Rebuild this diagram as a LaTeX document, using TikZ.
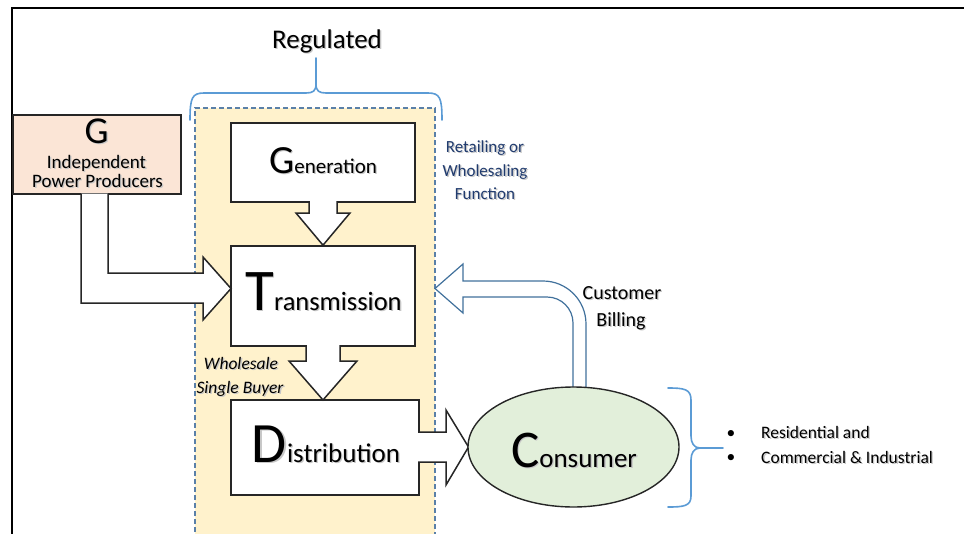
\documentclass[tikz,border=0pt]{standalone}
\usepackage{fontspec}
\setmainfont{Carlito}
\usetikzlibrary{shapes.geometric,calc}

\definecolor{regfill}{HTML}{FFF2CC}
\definecolor{regdash}{HTML}{5A80A8}
\definecolor{braceblue}{HTML}{5B9BD5}
\definecolor{billblue}{HTML}{41719C}
\definecolor{ippfill}{HTML}{FBE5D6}
\definecolor{consfill}{HTML}{E2EFDA}
\definecolor{navytext}{HTML}{203B6E}
\definecolor{boxline}{HTML}{262626}

\newcommand{\fs}[1]{\fontsize{#1}{#1}\selectfont}
% soft drop shadow behind a piece of text
\newcommand{\shd}[1]{\makebox[0pt][l]{\kern1.3pt\raisebox{-1.3pt}{\color{black!22}#1}}#1}

\tikzset{
  box/.style={draw=boxline, line width=1.6pt, fill=white, inner sep=0pt},
  blockarrow/.style={fill=white, draw=boxline, line width=1.5pt, line join=miter},
  billarrow/.style={fill=white, draw=billblue, line width=1.2pt, line join=miter},
  brace/.style={draw=braceblue, line width=1.6pt, line cap=round, line join=round},
  txt/.style={anchor=base, inner sep=0pt, text=black},
}

\begin{document}
\begin{tikzpicture}[x=1pt, y=-1pt]
\useasboundingbox (0,0) rectangle (964,533);

% frame lines
\draw[line width=2pt] (12,534) -- (12,8) -- (965,8);

% regulated area
\fill[regfill] (195,108) rectangle (435,540);
\draw[regdash, line width=1.1pt, dash pattern=on 5pt off 3pt] (195,540) -- (195,108) -- (435,108) -- (435,540);

% regulated brace
\draw[brace] (190,120) .. controls (190,98) and (192,93) .. (204,93) -- (306,93)
  .. controls (313,93) and (316,91) .. (316,84) -- (316,58);
\draw[brace] (316,84) .. controls (316,91) and (319,93) .. (326,93) -- (428,93)
  .. controls (440,93) and (442,98) .. (442,120);
\node[txt, font=\fs{27}] (reg) at (327,48) {\shd{Regulated}};

% boxes
\node[box, minimum width=184pt, minimum height=79pt] (gen) at (323,162.5) {};
\node[box, minimum width=184pt, minimum height=100pt] (trans) at (323,296) {};
\node[box, minimum width=188pt, minimum height=95pt] (dist) at (325,447.5) {};
\node[box, fill=ippfill, minimum width=168pt, minimum height=79pt] (ipp) at (97,154.5) {};

% block arrows
\filldraw[blockarrow] (309,201.1) -- (309,213) -- (296,213) -- (trans.north)
  -- (350,213) -- (337,213) -- (337,201.1);
\filldraw[blockarrow] (306,345.1) -- (306,361) -- (289,361) -- (323,400)
  -- (357,361) -- (340,361) -- (340,345.1);
\filldraw[blockarrow] (418.1,432) -- (446,432) -- (446,410) -- (468.5,447)
  -- (446,485) -- (446,462) -- (418.1,462);
\filldraw[blockarrow] (108,193.6) -- (108,273) -- (203,273) -- (203,257) -- (231,288.5)
  -- (203,320) -- (203,303) -- (81,303) -- (81,193.6);

% customer billing arrow
\filldraw[billarrow] (573,395) [rounded corners=26pt] -- (573,297) [sharp corners] -- (463,297)
  -- (463,313) -- (435,288.5) -- (463,264) -- (463,281) [rounded corners=43pt] -- (586,281)
  [sharp corners] -- (586,395);

% consumer
\node[draw=boxline, line width=1.4pt, fill=consfill, ellipse, inner sep=0pt,
  minimum width=211pt, minimum height=120pt] (cons) at (573.5,447) {};

% consumer brace
\draw[brace] (668,388) .. controls (684,388) and (691,389) .. (691,400) -- (691,436)
  .. controls (691,443) and (694,448) .. (700,448) -- (723,448);
\draw[brace] (700,448) .. controls (694,448) and (691,453) .. (691,460) -- (691,496)
  .. controls (691,506) and (684,507) .. (668,507);

% box labels
\node[txt] (gen-t) at (323,173) {\shd{{\fs{40}G}{\fs{21}eneration}}};
\node[txt] (trans-t) at (323.5,310) {\shd{{\fs{59}T}{\fs{26.5}ransmission}}};
\node[txt] (dist-t) at (326,462) {\shd{{\fs{57}D}{\fs{27}istribution}}};
\node[txt] (cons-t) at (574,467) {\shd{{\fs{53}C}{\fs{27}onsumer}}};
\node[txt, font=\fs{38}] (ipp-g) at (96.5,143) {\shd{G}};
\node[txt, font=\fs{19}] (ipp-1) at (96.5,168) {\shd{Independent}};
\node[txt, font=\fs{19}] (ipp-2) at (97.5,187) {\shd{Power Producers}};

% side notes
\node[txt, font=\fs{17}, text=navytext] (ret1) at (485,152) {\shd{Retailing or}};
\node[txt, font=\fs{17}, text=navytext] (ret2) at (485,176) {\shd{Wholesaling}};
\node[txt, font=\fs{17}, text=navytext] (ret3) at (485,199) {\shd{Function}};

\node[txt, font=\fs{20}] (bill1) at (622,299) {\shd{Customer}};
\node[txt, font=\fs{20}] (bill2) at (621,326) {\shd{Billing}};

\node[txt, font=\fs{17.5}\itshape] (ws1) at (241,369) {\shd{Wholesale}};
\node[txt, font=\fs{17.5}\itshape] (ws2) at (240,393) {\shd{Single Buyer}};

\node[txt, font=\fs{17.5}] (b1) at (731,438) {•};
\node[txt, font=\fs{17.5}] (b2) at (731,462) {•};
\node[txt, anchor=base west, font=\fs{17.5}] (seg1) at (761,438) {\shd{Residential and}};
\node[txt, anchor=base west, font=\fs{17.5}] (seg2) at (761,463) {\shd{Commercial \& Industrial}};
\end{tikzpicture}
\end{document}
